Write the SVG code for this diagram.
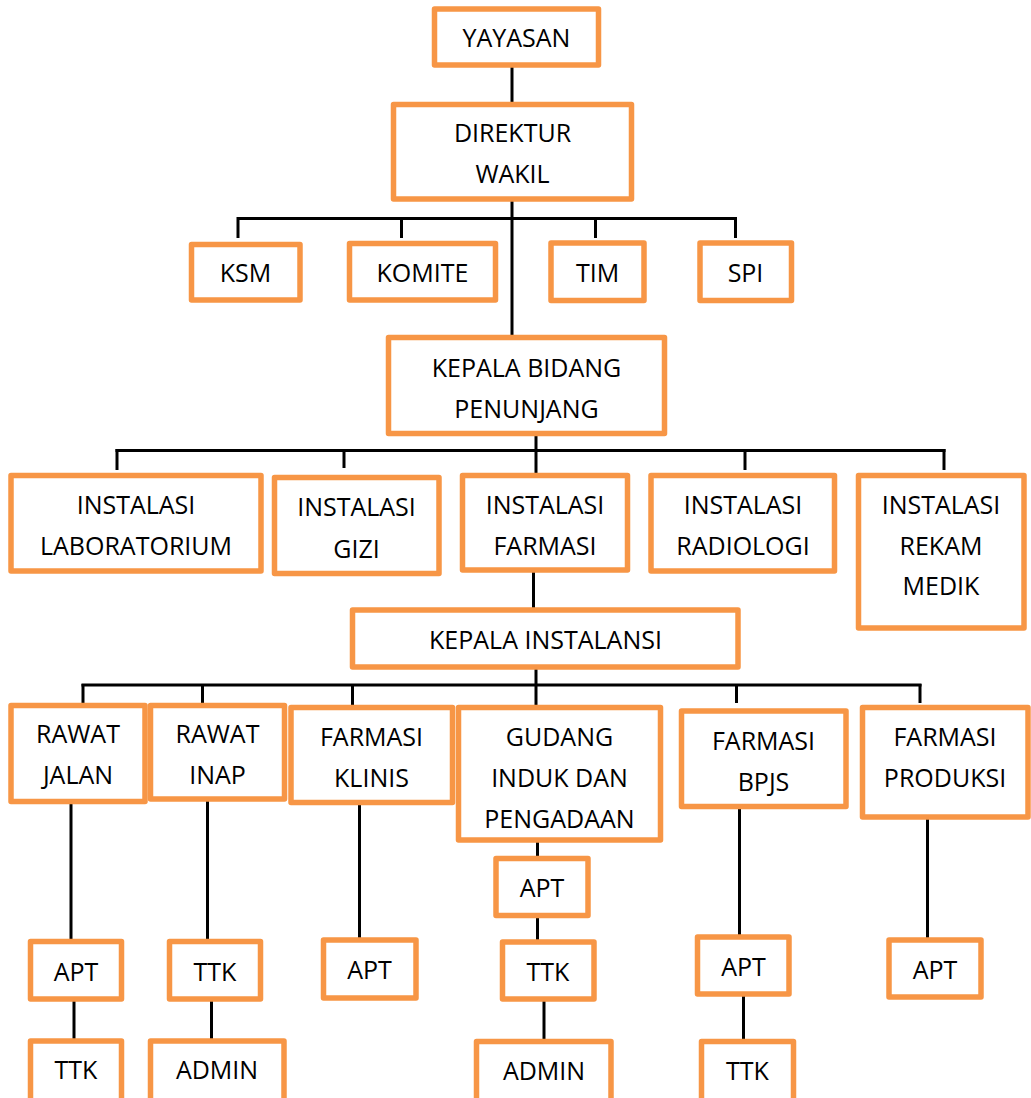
<svg xmlns="http://www.w3.org/2000/svg" width="1031" height="1098" viewBox="0 0 1031 1098">
<style>
.box{fill:#fff;stroke:#F79646;stroke-width:5.5;stroke-linejoin:round}
.t{font-family:"Open Sans","Noto Sans",sans-serif;font-size:25px;fill:#000;text-anchor:middle}
.c line{stroke:#000;stroke-width:3}
</style>
<rect width="1031" height="1098" fill="#fff"/>
<g class="c" id="connectors">
<line x1="512" y1="65" x2="512" y2="104"/>
<line x1="512" y1="199" x2="512" y2="337"/>
<line x1="237" y1="218.5" x2="737" y2="218.5"/>
<line x1="238" y1="217" x2="238" y2="238"/>
<line x1="401.5" y1="217" x2="401.5" y2="238"/>
<line x1="595.5" y1="217" x2="595.5" y2="238"/>
<line x1="735.5" y1="217" x2="735.5" y2="238"/>
<line x1="536" y1="434" x2="536" y2="475"/>
<line x1="115.5" y1="450.5" x2="945.5" y2="450.5"/>
<line x1="117" y1="449" x2="117" y2="470"/>
<line x1="344" y1="449" x2="344" y2="468"/>
<line x1="745" y1="449" x2="745" y2="470"/>
<line x1="944" y1="449" x2="944" y2="470"/>
<line x1="533.5" y1="571" x2="533.5" y2="610"/>
<line x1="536" y1="667" x2="536" y2="707"/>
<line x1="81.5" y1="685" x2="921.5" y2="685"/>
<line x1="83" y1="684" x2="83" y2="703"/>
<line x1="202.5" y1="684" x2="202.5" y2="703"/>
<line x1="352.5" y1="684" x2="352.5" y2="706"/>
<line x1="736.5" y1="684" x2="736.5" y2="703"/>
<line x1="920" y1="684" x2="920" y2="703"/>
<line x1="71" y1="803" x2="71" y2="941"/>
<line x1="207.5" y1="800" x2="207.5" y2="941"/>
<line x1="359.5" y1="804" x2="359.5" y2="940"/>
<line x1="537.5" y1="841" x2="537.5" y2="858"/>
<line x1="739.5" y1="808" x2="739.5" y2="937"/>
<line x1="927.5" y1="818" x2="927.5" y2="940"/>
<line x1="74" y1="1000" x2="74" y2="1041"/>
<line x1="211.5" y1="1000" x2="211.5" y2="1041"/>
<line x1="537.5" y1="917" x2="537.5" y2="942"/>
<line x1="544" y1="1000" x2="544" y2="1041"/>
<line x1="743.5" y1="995" x2="743.5" y2="1039"/>
</g>
<g id="yayasan"><rect class="box" x="434.5" y="9" width="164" height="56"/><text class="t" x="516.5" y="47">YAYASAN</text></g>
<g id="direktur"><rect class="box" x="393.5" y="104.5" width="238" height="94.5"/><text class="t" x="512.5" y="142">DIREKTUR</text><text class="t" x="512.5" y="183">WAKIL</text></g>
<g id="ksm"><rect class="box" x="191.5" y="244.5" width="108.5" height="55.5"/><text class="t" x="245.5" y="282">KSM</text></g>
<g id="komite"><rect class="box" x="349.5" y="243.5" width="146" height="56.5"/><text class="t" x="422.5" y="282">KOMITE</text></g>
<g id="tim"><rect class="box" x="551" y="243" width="93" height="57.5"/><text class="t" x="597.5" y="282">TIM</text></g>
<g id="spi"><rect class="box" x="700" y="243" width="91.5" height="57.5"/><text class="t" x="745.5" y="282">SPI</text></g>
<g id="kepala-bidang"><rect class="box" x="388.5" y="337.5" width="276" height="96"/><text class="t" x="526.5" y="377">KEPALA BIDANG</text><text class="t" x="526.5" y="417.5">PENUNJANG</text></g>
<g id="inst-lab"><rect class="box" x="11" y="475.5" width="250" height="95.5"/><text class="t" x="136" y="513.5">INSTALASI</text><text class="t" x="136" y="555">LABORATORIUM</text></g>
<g id="inst-gizi"><rect class="box" x="274.5" y="477.5" width="164.5" height="96"/><text class="t" x="356.5" y="516">INSTALASI</text><text class="t" x="356.5" y="557.5">GIZI</text></g>
<g id="inst-farmasi"><rect class="box" x="462.5" y="475.5" width="165" height="94.5"/><text class="t" x="545" y="513.5">INSTALASI</text><text class="t" x="545" y="554.5">FARMASI</text></g>
<g id="inst-radiologi"><rect class="box" x="651" y="475.5" width="183.5" height="95.5"/><text class="t" x="743" y="513.5">INSTALASI</text><text class="t" x="743" y="555">RADIOLOGI</text></g>
<g id="inst-rekam"><rect class="box" x="858.5" y="475.5" width="165.5" height="152.5"/><text class="t" x="941" y="513.5">INSTALASI</text><text class="t" x="941" y="555">REKAM</text><text class="t" x="941" y="595">MEDIK</text></g>
<g id="kepala-instalansi"><rect class="box" x="352.5" y="610" width="385.5" height="57"/><text class="t" x="545.5" y="648.5">KEPALA INSTALANSI</text></g>
<g id="rawat-jalan"><rect class="box" x="11" y="705.5" width="134" height="96"/><text class="t" x="78" y="743">RAWAT</text><text class="t" x="78" y="784">JALAN</text></g>
<g id="rawat-inap"><rect class="box" x="150.5" y="705.5" width="134" height="93.5"/><text class="t" x="217.5" y="743">RAWAT</text><text class="t" x="217.5" y="783.5">INAP</text></g>
<g id="farmasi-klinis"><rect class="box" x="291" y="707.5" width="161.5" height="95"/><text class="t" x="371.5" y="746">FARMASI</text><text class="t" x="371.5" y="787">KLINIS</text></g>
<g id="gudang"><rect class="box" x="458.5" y="707.5" width="202" height="132.5"/><text class="t" x="559.5" y="746">GUDANG</text><text class="t" x="559.5" y="787">INDUK DAN</text><text class="t" x="559.5" y="827.5">PENGADAAN</text></g>
<g id="farmasi-bpjs"><rect class="box" x="681.5" y="711" width="164.5" height="95.5"/><text class="t" x="763.5" y="749.5">FARMASI</text><text class="t" x="763.5" y="791">BPJS</text></g>
<g id="farmasi-produksi"><rect class="box" x="862.5" y="707.5" width="165.5" height="109.5"/><text class="t" x="945" y="746">FARMASI</text><text class="t" x="945" y="786.5">PRODUKSI</text></g>
<g id="rj-apt"><rect class="box" x="30.5" y="941.5" width="91" height="57.5"/><text class="t" x="76" y="981">APT</text></g>
<g id="rj-ttk"><rect class="box" x="30.5" y="1041" width="91" height="62"/><text class="t" x="76" y="1078.5">TTK</text></g>
<g id="ri-ttk"><rect class="box" x="169.5" y="941.5" width="91" height="57.5"/><text class="t" x="215" y="981">TTK</text></g>
<g id="ri-admin"><rect class="box" x="150.5" y="1041" width="133.5" height="62"/><text class="t" x="217" y="1078.5">ADMIN</text></g>
<g id="fk-apt"><rect class="box" x="323.5" y="940" width="92.5" height="58"/><text class="t" x="369.5" y="978.5">APT</text></g>
<g id="gd-apt"><rect class="box" x="496" y="858.5" width="92" height="57"/><text class="t" x="542" y="897">APT</text></g>
<g id="gd-ttk"><rect class="box" x="502.5" y="942" width="91.5" height="57"/><text class="t" x="548" y="981">TTK</text></g>
<g id="gd-admin"><rect class="box" x="476.5" y="1041.5" width="134.5" height="62"/><text class="t" x="544" y="1079.5">ADMIN</text></g>
<g id="bpjs-apt"><rect class="box" x="697.5" y="937" width="91.5" height="57"/><text class="t" x="743.5" y="976">APT</text></g>
<g id="bpjs-ttk"><rect class="box" x="701.5" y="1041.5" width="92" height="62"/><text class="t" x="747.5" y="1079.5">TTK</text></g>
<g id="prod-apt"><rect class="box" x="889" y="940" width="92" height="57"/><text class="t" x="935" y="978.5">APT</text></g>
</svg>
